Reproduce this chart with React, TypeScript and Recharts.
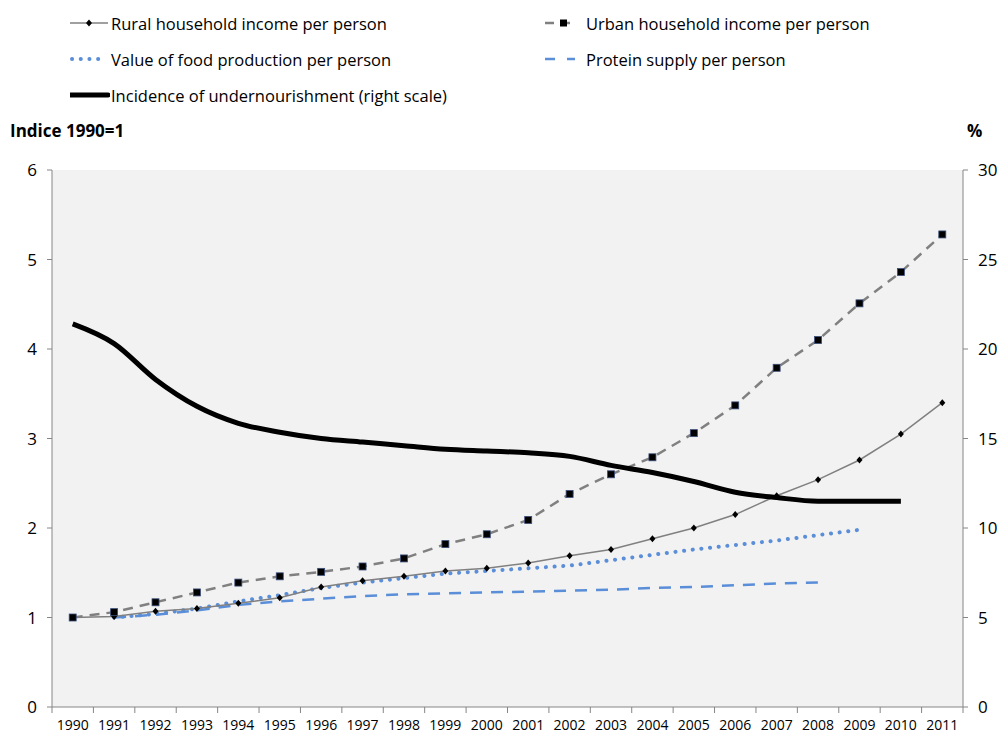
import React from "react";
import { LineChart, Line, XAxis, YAxis, CartesianGrid } from "recharts";

const years = [
  1990, 1991, 1992, 1993, 1994, 1995, 1996, 1997, 1998, 1999, 2000, 2001,
  2002, 2003, 2004, 2005, 2006, 2007, 2008, 2009, 2010, 2011,
];
const rural = [
  1.0, 1.01, 1.07, 1.1, 1.16, 1.22, 1.34, 1.41, 1.46, 1.52, 1.55, 1.61,
  1.69, 1.76, 1.88, 2.0, 2.15, 2.36, 2.54, 2.76, 3.05, 3.4,
];
const urban = [
  1.0, 1.06, 1.17, 1.28, 1.39, 1.46, 1.51, 1.57, 1.66, 1.82, 1.93, 2.09,
  2.38, 2.6, 2.79, 3.06, 3.37, 3.79, 4.1, 4.51, 4.86, 5.28,
];
const food = [
  null, 1.0, 1.04, 1.1, 1.18, 1.25, 1.33, 1.39, 1.44, 1.49, 1.52, 1.55,
  1.58, 1.64, 1.7, 1.76, 1.81, 1.86, 1.92, 1.98, null, null,
];
const protein = [
  null, 1.0, 1.03, 1.08, 1.14, 1.18, 1.21, 1.24, 1.26, 1.27, 1.28, 1.29,
  1.3, 1.31, 1.33, 1.34, 1.36, 1.38, 1.39, null, null, null,
];
// right scale, %
const undernourishment = [
  21.4, 20.3, 18.3, 16.8, 15.85, 15.35, 15.0, 14.8, 14.6, 14.4, 14.3, 14.2,
  14.0, 13.5, 13.1, 12.6, 12.0, 11.7, 11.5, 11.5, 11.5, null,
];
const leftTicks = [0, 1, 2, 3, 4, 5, 6];
const rightTicks = [0, 5, 10, 15, 20, 25, 30];

const data = years.map((year, i) => ({
  year,
  rural: rural[i],
  urban: urban[i],
  food: food[i],
  protein: protein[i],
  undernourishment: undernourishment[i],
}));

// tick marks sit between the years, labels on the years
const xTicks = [...years.flatMap((y) => [y - 0.5, y]), years[years.length - 1] + 0.5];

const FONT = "'Open Sans', sans-serif";
const AXIS = "#868686";

const YearTick = (props: any) => {
  const { x, y, payload } = props;
  if (Number.isInteger(payload.value)) {
    return (
      <text x={x} y={y} dy={15} textAnchor="middle" fontSize={14} fill="#000" fontFamily={FONT}>
        {payload.value}
      </text>
    );
  }
  return <line x1={x} x2={x} y1={y - 8} y2={y - 2} stroke={AXIS} strokeWidth={1} />;
};

const Diamond = (props: any) => {
  const { cx, cy, value } = props;
  if (value == null || cx == null) return null;
  return <path d={`M${cx},${cy - 3.5}L${cx + 3},${cy}L${cx},${cy + 3.5}L${cx - 3},${cy}Z`} fill="#000" />;
};

const Square = (props: any) => {
  const { cx, cy, value } = props;
  if (value == null || cx == null) return null;
  return <rect x={cx - 3.5} y={cy - 3.5} width={7} height={7} fill="#000" stroke="#3a4f7a" strokeWidth={0.8} />;
};

const legendItems = [
  { label: "Rural household income per person", left: 70, top: 23, icon: "rural" },
  { label: "Urban household income per person", left: 545, top: 23, icon: "urban" },
  { label: "Value of food production per person", left: 70, top: 59, icon: "food" },
  { label: "Protein supply per person", left: 545, top: 59, icon: "protein" },
  { label: "Incidence of undernourishment (right scale)", left: 70, top: 95, icon: "under" },
];

const LegendIcon = ({ kind }: { kind: string }) => {
  if (kind === "rural")
    return (
      <svg width={40} height={10}>
        <line x1={0} x2={38} y1={5} y2={5} stroke="#808080" strokeWidth={1.5} />
        <path d="M19,1.5L22,5L19,8.5L16,5Z" fill="#000" />
      </svg>
    );
  if (kind === "urban")
    return (
      <svg width={40} height={10}>
        <line x1={0} x2={28} y1={5} y2={5} stroke="#808080" strokeWidth={2.5} strokeDasharray="9 7" />
        <rect x={15} y={1.5} width={7} height={7} fill="#000" />
      </svg>
    );
  if (kind === "food")
    return (
      <svg width={40} height={10}>
        <line x1={2} x2={30} y1={5} y2={5} stroke="#5a8ed8" strokeWidth={4} strokeLinecap="round" strokeDasharray="0.1 8.6" />
      </svg>
    );
  if (kind === "protein")
    return (
      <svg width={40} height={10}>
        <line x1={0} x2={30} y1={5} y2={5} stroke="#5a8ed8" strokeWidth={2.5} strokeDasharray="10 12" />
      </svg>
    );
  return (
    <svg width={40} height={10}>
      <line x1={0} x2={38} y1={5} y2={5} stroke="#000" strokeWidth={5} strokeLinecap="round" />
    </svg>
  );
};

export default function App() {
  return (
    <div style={{ position: "absolute", left: 0, top: 0, width: 1002, height: 740, background: "#fff", fontFamily: FONT }}>
      {legendItems.map((it) => (
        <div
          key={it.label}
          style={{ position: "absolute", left: it.left, top: it.top - 12, height: 24, display: "flex", alignItems: "center", fontSize: 16.5, color: "#000", whiteSpace: "nowrap" }}
        >
          <div style={{ width: 41, display: "flex" }}>
            <LegendIcon kind={it.icon} />
          </div>
          <span>{it.label}</span>
        </div>
      ))}
      <div style={{ position: "absolute", left: 10, top: 119, fontSize: 17, fontWeight: "bold", color: "#000" }}>Indice 1990=1</div>
      <div style={{ position: "absolute", left: 967, top: 119, fontSize: 17, fontWeight: "bold", color: "#000" }}>%</div>

      <LineChart width={1002} height={740} data={data} margin={{ top: 170, right: 0, bottom: 3, left: 12 }}>
        <CartesianGrid fill="#f2f2f2" stroke="none" horizontal={false} vertical={false} />
        <XAxis
          dataKey="year"
          type="number"
          domain={[years[0] - 0.5, years[years.length - 1] + 0.5]}
          ticks={xTicks}
          interval={0}
          tickLine={false}
          tickSize={6}
          tickMargin={2}
          tick={<YearTick />}
          axisLine={{ stroke: AXIS }}
          height={30}
        />
        <YAxis
          yAxisId="left"
          domain={[0, 6]}
          ticks={leftTicks}
          width={40}
          tickSize={5}
          tickMargin={10}
          axisLine={{ stroke: AXIS }}
          tickLine={{ stroke: AXIS }}
          tick={{ fill: "#000", fontSize: 17, fontFamily: FONT }}
        />
        <YAxis
          yAxisId="right"
          orientation="right"
          domain={[0, 30]}
          ticks={rightTicks}
          width={39}
          tickSize={5}
          tickMargin={10}
          axisLine={{ stroke: AXIS }}
          tickLine={{ stroke: AXIS }}
          tick={{ fill: "#000", fontSize: 17, fontFamily: FONT, textAnchor: "start" }}
        />
        <Line yAxisId="left" dataKey="protein" stroke="#5a8ed8" strokeWidth={2.5} strokeDasharray="12 9" dot={false} isAnimationActive={false} />
        <Line yAxisId="left" dataKey="food" stroke="#5a8ed8" strokeWidth={4} strokeLinecap="round" strokeDasharray="0.1 8.6" dot={false} isAnimationActive={false} />
        <Line yAxisId="left" dataKey="rural" stroke="#808080" strokeWidth={1.5} dot={<Diamond />} isAnimationActive={false} />
        <Line yAxisId="left" dataKey="urban" stroke="#808080" strokeWidth={2.5} strokeDasharray="10 7" dot={<Square />} isAnimationActive={false} />
        <Line yAxisId="right" type="monotone" dataKey="undernourishment" stroke="#000" strokeWidth={5} dot={false} isAnimationActive={false} />
      </LineChart>
    </div>
  );
}
